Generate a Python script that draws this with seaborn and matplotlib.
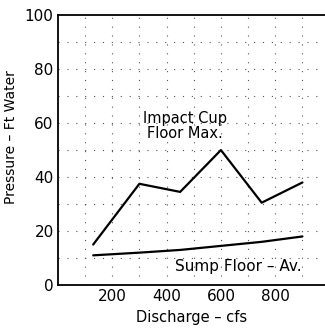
import matplotlib
matplotlib.use("Agg")
import matplotlib.pyplot as plt
import seaborn as sns
import pandas as pd

# data
discharge = [130, 300, 450, 600, 750, 900]
impact_cup_max = [15, 37.5, 34.5, 50, 30.5, 38]
sump_floor_av = [11, 12, 13, 14.5, 16, 18]

x_ticks = [200, 400, 600, 800]
y_ticks = [0, 20, 40, 60, 80, 100]

df = pd.DataFrame({
    "Discharge": discharge * 2,
    "Pressure": impact_cup_max + sump_floor_av,
    "Series": ["Impact"] * len(discharge) + ["Sump"] * len(discharge),
})

sns.set_style("white")
plt.rcParams["font.family"] = ["DejaVu Sans"]
plt.rcParams["text.color"] = "black"
plt.rcParams["axes.labelcolor"] = "black"
plt.rcParams["xtick.color"] = "black"
plt.rcParams["ytick.color"] = "black"

fig = plt.figure(figsize=(3.25, 3.28), dpi=100)
ax = fig.add_axes([0.178, 0.131, 0.822, 0.823])

# sparse dotted grid
for gx in range(100, 1000, 100):
    ax.axvline(gx, color="#555555", lw=0.8, ls=(0, (1, 7)), zorder=0)
for gy in range(10, 100, 10):
    ax.axhline(gy, color="#555555", lw=0.8, ls=(0, (1, 7)), zorder=0)

sns.lineplot(data=df, x="Discharge", y="Pressure", hue="Series",
             palette=["black", "black"], linewidth=1.6, legend=False, ax=ax)

ax.set_xlim(0, 983)
ax.set_ylim(0, 100)
ax.set_xticks(x_ticks)
ax.set_yticks(y_ticks)
ax.tick_params(axis="both", labelsize=11, length=0, pad=3)
ax.set_xticks([100, 200, 300], minor=True)
ax.tick_params(axis="x", which="minor", direction="in", length=3, color="black")

for side in ["left", "bottom", "top"]:
    ax.spines[side].set_color("black")
    ax.spines[side].set_linewidth(1.3)
ax.spines["right"].set_visible(False)

ax.set_xlabel("Discharge – cfs", fontsize=10.5, labelpad=4)
ax.set_ylabel("Pressure – Ft Water", fontsize=10)
ax.yaxis.set_label_coords(-0.15, 0.55)

ax.text(467, 59, "Impact Cup\nFloor Max.", ha="center", va="center",
        fontsize=10.5, linespacing=1.0)
ax.text(665, 6.7, "Sump Floor – Av.", ha="center", va="center", fontsize=11)

fig.savefig("out.png", dpi=100)
